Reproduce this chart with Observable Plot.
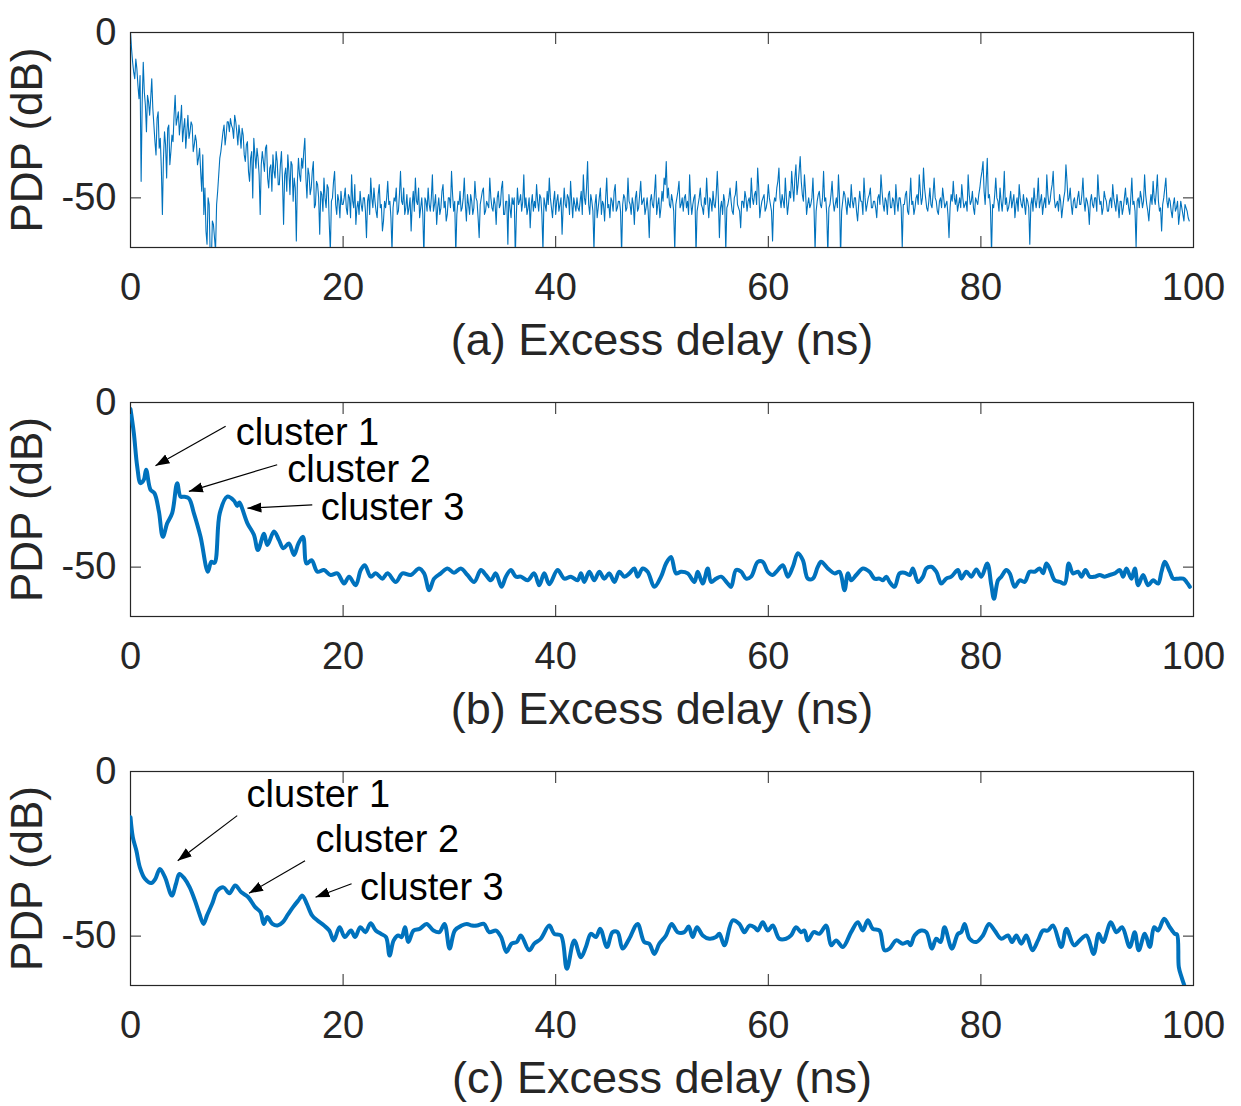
<!DOCTYPE html>
<html><head><meta charset="utf-8">
<script src="https://cdn.jsdelivr.net/npm/d3@7"></script>
<script src="https://cdn.jsdelivr.net/npm/@observablehq/plot@0.6"></script>
<style>
body{margin:0;background:#fff;}
#chart{width:1241px;height:1106px;overflow:hidden;}
#chart svg{display:block;}
</style></head><body><div id="chart"></div>
<script>
// ---------- axes / labels ----------
const xTicks = [0, 20, 40, 60, 80, 100];
const yTicks = [-50, 0];
const xLabels = ["(a) Excess delay (ns)", "(b) Excess delay (ns)", "(c) Excess delay (ns)"];
const yLabel = "PDP (dB)";
const clusterNames = ["cluster 1", "cluster 2", "cluster 3"];

// ---------- panel (a): raw PDP, one sample every 0.1 ns ----------
const sampleStepA = 0.1;
const pdpA = [
0,-5,-9,-12,-14,-8,-11,-16,-20,-13,-45,-21,-9,-18,-22,-30,-19,-21,-25,-20,
-14,-23,-28,-33,-37,-26,-24,-35,-32,-41,-55,-38,-30,-34,-44,-29,-28,-40,-36,-31,
-33,-25,-19,-28,-26,-24,-31,-27,-22,-33,-29,-26,-35,-30,-25,-32,-30,-27,-28,-36,
-34,-31,-33,-40,-38,-35,-42,-48,-37,-55,-47,-60,-64,-50,-52,-68,-70,-57,-58,-62,
-66,-52,-48,-43,-38,-36,-33,-30,-28,-34,-31,-27,-27,-30,-26,-28,-29,-32,-25,-27,
-30,-34,-28,-31,-35,-29,-31,-37,-39,-34,-33,-42,-45,-38,-36,-50,-32,-37,-41,-35,
-38,-43,-55,-40,-36,-39,-42,-35,-34,-44,-47,-41,-40,-48,-37,-42,-44,-36,-39,-46,
-46,-40,-36,-45,-58,-43,-41,-48,-37,-42,-49,-39,-40,-51,-44,-47,-63,-45,-38,-43,
-45,-38,-41,-36,-32,-44,-50,-41,-43,-49,-47,-42,-39,-53,-52,-45,-46,-50,-61,-48,
-49,-54,-44,-50,-53,-46,-47,-58,-66,-51,-50,-45,-42,-52,-55,-49,-51,-56,-48,-52,
-52,-50,-47,-53,-55,-49,-50,-56,-43,-51,-53,-46,-58,-53,-51,-55,-48,-52,-54,-50,
-50,-54,-62,-51,-49,-55,-44,-50,-53,-47,-51,-54,-56,-49,-46,-53,-52,-60,-57,-51,
-53,-50,-45,-52,-51,-56,-66,-53,-50,-51,-47,-55,-54,-49,-42,-51,-52,-47,-55,-53,
-49,-55,-53,-50,-60,-52,-48,-54,-44,-51,-52,-47,-56,-53,-50,-55,-68,-50,-51,-54,
-47,-52,-54,-50,-43,-54,-52,-49,-58,-53,-50,-55,-53,-48,-46,-53,-51,-57,-55,-50,
-50,-53,-42,-49,-54,-51,-67,-55,-51,-52,-48,-54,-53,-50,-44,-52,-57,-49,-52,-55,
-49,-51,-55,-53,-45,-50,-51,-56,-62,-52,-50,-48,-47,-55,-54,-51,-52,-53,-44,-50,
-53,-54,-50,-52,-58,-50,-48,-53,-52,-47,-45,-55,-55,-51,-51,-64,-49,-53,-56,-50,
-52,-50,-68,-55,-47,-52,-51,-49,-54,-51,-43,-53,-50,-55,-53,-50,-59,-52,-49,-54,
-51,-53,-46,-51,-54,-49,-50,-55,-66,-50,-52,-54,-48,-52,-44,-50,-53,-56,-51,-48,
-55,-51,-49,-54,-52,-50,-61,-53,-47,-52,-53,-49,-50,-55,-45,-51,-56,-50,-52,-54,
-50,-53,-54,-51,-48,-55,-43,-50,-52,-47,-39,-52,-55,-49,-51,-54,-66,-52,-49,-56,
-53,-50,-47,-55,-51,-52,-57,-50,-44,-53,-52,-56,-50,-51,-54,-48,-46,-54,-53,-51,
-51,-54,-67,-52,-49,-50,-54,-53,-44,-51,-52,-55,-50,-52,-58,-50,-48,-54,-53,-49,
-45,-52,-51,-50,-55,-53,-50,-54,-62,-51,-49,-52,-53,-48,-43,-55,-52,-50,-56,-53,
-48,-51,-44,-46,-39,-50,-47,-52,-53,-49,-51,-54,-66,-52,-50,-48,-45,-53,-52,-50,
-54,-50,-49,-53,-51,-55,-43,-51,-55,-52,-50,-49,-67,-54,-52,-50,-47,-52,-53,-55,
-50,-52,-44,-51,-56,-50,-51,-54,-48,-52,-53,-49,-42,-50,-62,-53,-51,-55,-49,-51,
-66,-53,-52,-50,-47,-51,-54,-55,-50,-49,-45,-52,-53,-54,-59,-51,-51,-53,-48,-50,
-54,-51,-50,-53,-44,-50,-52,-49,-48,-52,-41,-47,-56,-53,-51,-50,-49,-54,-53,-51,
-46,-50,-52,-54,-63,-52,-50,-51,-47,-45,-41,-50,-53,-49,-51,-53,-44,-50,-55,-52,
-48,-50,-42,-47,-51,-44,-40,-49,-46,-42,-37.5,-45,-49,-51,-43,-48,-55,-52,-50,-53,
-52,-50,-44,-53,-66,-54,-51,-49,-48,-52,-53,-50,-42,-51,-50,-55,-67,-53,-52,-49,
-45,-51,-54,-52,-50,-53,-43,-50,-68,-54,-51,-48,-49,-52,-55,-50,-52,-53,-46,-51,
-53,-50,-50,-54,-57,-52,-48,-51,-51,-55,-44,-50,-54,-52,-50,-49,-47,-53,-53,-51,
-51,-53,-56,-50,-49,-52,-43,-48,-52,-54,-50,-51,-55,-49,-48,-53,-53,-50,-51,-55,
-46,-51,-54,-50,-50,-53,-65,-52,-52,-49,-48,-54,-55,-50,-44,-52,-51,-55,-53,-50,
-49,-52,-43,-48,-52,-50,-41,-47,-50,-53,-54,-51,-47,-52,-53,-49,-44,-50,-51,-54,
-55,-51,-50,-53,-47,-50,-53,-52,-51,-55,-62,-53,-49,-51,-45,-50,-52,-49,-54,-52,
-50,-53,-46,-50,-53,-52,-51,-54,-43,-49,-52,-51,-48,-53,-55,-50,-51,-52,-49,-47,
-44,-42,-39,-48,-52,-45,-38,-50,-49,-53,-67,-52,-53,-49,-44,-50,-51,-54,-47,-51,
-54,-50,-42,-52,-50,-54,-53,-51,-48,-53,-51,-49,-56,-52,-50,-54,-46,-50,-52,-53,
-49,-52,-55,-50,-51,-53,-64,-52,-50,-54,-47,-51,-53,-50,-44,-53,-51,-49,-55,-52,
-50,-53,-43,-49,-52,-51,-48,-46,-42,-50,-53,-52,-51,-54,-49,-51,-56,-53,-50,-48,
-40,-45,-51,-50,-47,-52,-55,-51,-50,-53,-53,-50,-48,-52,-52,-49,-44,-51,-54,-50,
-51,-53,-58,-51,-49,-52,-53,-50,-50,-54,-43,-49,-52,-51,-55,-53,-48,-50,-51,-54,
-54,-51,-50,-53,-46,-50,-52,-54,-49,-52,-56,-51,-51,-55,-53,-50,-47,-52,-50,-53,
-55,-50,-44,-52,-51,-54,-65,-51,-50,-53,-48,-50,-53,-51,-43,-49,-52,-54,-57,-52,
-49,-52,-45,-50,-52,-48,-43,-51,-54,-53,-60,-52,-50,-47,-44,-51,-53,-50,-51,-54,
-56,-52,-50,-54,-53,-51,-58,-55,-51,-53,-55,-57,-52,-53,-54,-56,-57
];

// ---------- panel (b): clustered PDP ----------
const delayB = [
0,0.31,0.63,0.94,1.25,1.47,1.88,2.26,2.67,3.04,3.45,3.92,4.39,4.71,5.02,5.49,5.96,6.59,7.28,7.6,
7.9,8.4,9.1,9.73,10.04,10.23,11.0,11.61,11.99,12.56,12.87,13.5,13.97,14.38,14.9,15.38,15.8,16.23,16.57,17.04,
17.58,18.2,18.83,19.46,20.09,20.56,21.18,21.66,22.04,22.6,23.07,23.7,24.17,24.96,25.58,26.37,27.15,27.62,28.1,28.56,
29.19,29.82,30.44,31.07,31.7,32.33,32.96,33.43,33.9,34.37,34.9,35.31,35.78,36.26,36.73,37.35,37.98,38.45,38.92,39.4,
40.18,40.81,41.43,42.06,42.38,42.69,43.16,43.63,44.1,44.57,45.04,45.52,45.99,46.46,46.93,47.4,47.71,48.18,48.65,49.28,
49.91,50.38,50.85,51.32,51.79,52.42,53.05,53.36,53.83,54.3,54.62,55.09,55.56,56.19,56.5,56.97,57.44,57.91,58.38,59.01,
59.48,59.95,60.42,60.89,61.37,61.84,62.31,62.78,63.25,63.72,64.19,64.66,64.97,65.6,66.23,66.7,67.17,67.49,67.8,68.27,
68.9,69.52,69.99,70.47,70.78,71.1,71.41,71.88,72.35,72.82,73.29,73.6,74.08,74.55,74.86,75.33,75.8,76.27,76.74,77.21,
77.84,78.16,78.63,79.1,79.57,80.04,80.6,80.98,81.23,81.61,81.92,82.39,82.71,83.18,83.65,84.12,84.59,85.06,85.53,85.85,
86.16,86.47,86.94,87.42,87.89,88.26,88.67,89.14,89.46,89.83,90.24,90.71,91.18,91.65,92.12,92.59,93.07,93.38,93.69,94.16,
94.48,94.79,95.26,95.73,96.2,96.67,96.99,97.3,97.77,98.09,98.56,99.03,99.34,99.66
];
const pdpB = [
-2,-9.2,-19.4,-24.5,-23.5,-20.4,-26.5,-27.6,-33.1,-40.8,-36.7,-33.6,-24.5,-28.6,-28.6,-29.1,-33.6,-40.8,-51.4,-48.4,
-48.7,-33.6,-28.6,-29.8,-31.4,-30.4,-36.7,-40.2,-44.8,-39.9,-43.3,-39.2,-41.8,-44.3,-42.8,-46.3,-42.8,-40.8,-48.9,-47.9,
-51.4,-50.9,-52.4,-51.9,-55.0,-52.9,-55.5,-50.9,-49.4,-52.9,-51.9,-53.5,-51.9,-54.5,-51.9,-52.4,-50.4,-51.9,-57.0,-53.5,
-51.9,-50.4,-51.7,-50.4,-52.4,-54.5,-50.9,-52.4,-54.0,-51.9,-56.0,-52.9,-50.9,-52.9,-52.9,-54.0,-51.9,-55.5,-51.9,-55.2,
-50.9,-53.5,-52.9,-54.0,-51.9,-54.5,-51.4,-54.0,-51.4,-53.5,-51.9,-54.5,-51.4,-52.9,-51.9,-50.4,-52.9,-50.4,-51.4,-56.0,
-52.9,-48.9,-46.9,-51.9,-51.4,-51.9,-54.5,-51.4,-55.0,-50.4,-54.5,-53.5,-52.9,-55.0,-56.0,-50.9,-51.4,-53.5,-52.9,-48.4,
-48.4,-51.4,-52.4,-50.9,-49.4,-52.9,-49.9,-45.8,-47.9,-53.5,-53.5,-49.9,-48.4,-50.4,-51.9,-51.4,-57.0,-51.9,-54.0,-52.4,
-50.4,-51.4,-53.5,-53.5,-54.0,-52.9,-54.5,-56.0,-51.9,-51.7,-52.4,-50.4,-54.5,-52.9,-50.4,-49.9,-51.4,-55.0,-53.5,-52.9,
-50.9,-53.5,-51.4,-52.9,-50.7,-52.9,-48.9,-55.5,-59.6,-54.0,-52.9,-50.9,-51.9,-56.0,-54.0,-54.5,-51.4,-51.4,-50.4,-51.9,
-48.9,-50.4,-54.0,-54.5,-55.0,-48.9,-51.9,-51.4,-52.9,-50.9,-52.9,-52.9,-52.4,-52.9,-52.4,-51.9,-50.9,-52.9,-50.4,-53.5,
-50.4,-55.5,-52.4,-55.5,-54.0,-55.0,-51.4,-48.4,-51.4,-53.5,-53.5,-53.5,-54.5,-56.0
];

// ---------- panel (c): clustered PDP, second method ----------
const delayC = [
0,0.22,0.55,0.88,1.36,1.95,2.34,2.76,3.24,3.89,4.28,4.6,5.09,5.57,6.06,6.48,6.87,7.2,7.68,8.17,
8.75,9.3,9.85,10.43,11.08,11.73,12.22,12.54,12.86,13.35,13.83,14.32,14.8,15.29,15.78,16.17,16.59,17.08,17.56,18.21,
18.7,19.12,19.67,20.16,20.74,21.13,21.62,22.1,22.59,23.07,23.56,24.04,24.37,24.76,25.18,25.5,25.82,26.14,26.63,27.21,
27.86,28.5,29.05,29.54,30.02,30.51,31.15,31.64,32.12,32.61,33.25,33.74,34.39,34.87,35.36,35.85,36.34,36.72,37.5,37.98,
38.6,39.39,39.86,40.49,41.05,41.74,42.37,42.84,43.31,43.78,44.19,44.82,45.35,45.82,46.29,46.92,47.7,48.33,48.8,49.28,
49.75,50.37,50.91,51.47,52.1,52.51,52.88,53.29,53.83,54.45,55.08,55.4,55.87,56.65,57.28,57.75,58.22,58.69,59.0,59.48,
59.95,60.42,61.04,61.67,62.14,62.61,63.08,63.4,63.71,64.28,64.81,65.44,65.91,66.38,67.01,67.79,68.42,68.89,69.36,69.83,
70.46,70.93,71.4,72.03,72.66,73.13,73.38,73.76,74.39,74.86,75.39,75.8,76.21,76.58,77.27,77.84,78.15,78.47,78.94,79.57,
80.19,80.76,81.29,81.92,82.55,82.92,83.33,83.8,84.27,84.84,85.37,85.84,86.31,86.78,87.57,88.04,88.76,89.3,89.92,90.61,
91.08,91.49,92.22,92.75,93.28,94.0,94.47,94.85,95.42,95.89,96.3,96.67,97.24,97.77,98.24,98.45,98.62,98.87,99.25
];
const pdpC = [
-13.9,-20,-24,-29.1,-32.6,-33.9,-32.6,-29.6,-32.1,-37.7,-34.1,-31.1,-32.6,-35.2,-39.2,-43.2,-46.3,-43.7,-40.2,-36.2,
-35.2,-37,-34.6,-36.7,-38.2,-41.2,-42.7,-46.3,-44.2,-46.3,-46.8,-45.8,-43.5,-41.2,-39.2,-37.7,-40.2,-43.7,-45.2,-46.8,
-48.3,-51.3,-47.3,-50.3,-48.3,-50.3,-47.3,-48.8,-46.1,-48.3,-49.3,-50.3,-55.9,-51.3,-49.8,-50.3,-47.3,-51.8,-48.3,-47.8,
-46.3,-48.3,-48.8,-46.3,-53.8,-48.3,-46.8,-46.3,-46.8,-46.8,-46.3,-48.8,-48.3,-50.3,-54.8,-52.3,-51.8,-49.8,-54.3,-52.3,
-50.8,-46.8,-49.3,-49.8,-59.9,-51.3,-56.4,-53.3,-49.3,-50.3,-47.8,-53.3,-48.8,-48.8,-53.8,-50.8,-46.3,-51.8,-52.3,-55.4,
-52.3,-49.8,-46.3,-48.8,-48.8,-47.1,-50.3,-47.3,-49.8,-50.8,-50.3,-49.3,-52.8,-45.2,-46.3,-48.8,-46.8,-47.3,-48.3,-45.8,
-48.3,-46.8,-50.8,-50.8,-49.8,-47.3,-48.8,-48.3,-51.3,-48.8,-49.3,-46.8,-52.8,-51.3,-53.3,-48.8,-45.8,-48.3,-45.2,-47.8,
-48.3,-54.3,-53.8,-51.3,-52.3,-51.8,-52.8,-49.8,-48.3,-48.8,-53.8,-50.8,-51.8,-47.3,-53.8,-49.3,-48.8,-46.3,-50.8,-51.8,
-49.8,-46.3,-48.3,-50.8,-49.8,-51.8,-49.8,-52.3,-49.8,-54.3,-51.3,-48.3,-48.3,-46.8,-53.3,-47.8,-52.8,-51.3,-49.8,-55.4,
-49.3,-51.8,-45.8,-48.8,-47.3,-53.3,-48.8,-54.3,-49.3,-53.3,-47.3,-48.3,-44.7,-47.3,-49.3,-49.5,-59.4,-62.4,-66
];

// ---------- annotations ----------
const clusterLabelDelayB = [9.89, 14.75, 17.9];
const clusterLabelPdpB = [-9.3, -20.4, -32.1];
const arrowFromDelayB = [8.95, 13.8, 17.1];
const arrowFromPdpB = [-7.2, -18.9, -31.1];
const arrowToDelayB = [2.35, 5.49, 11.0];
const arrowToPdpB = [-19.2, -27.0, -32.1];

const clusterLabelDelayC = [10.92, 17.4, 21.6];
const clusterLabelPdpC = [-7.1, -20.7, -35.4];
const arrowFromDelayC = [10.04, 16.42, 20.8];
const arrowFromPdpC = [-13.4, -27.1, -34.1];
const arrowToDelayC = [4.44, 11.15, 17.4];
const arrowToPdpC = [-27.1, -37.0, -38.2];

// ---------- build tables ----------
const tableA = pdpA.map((v, i) => ({t: i * sampleStepA, v}));
const tableB = delayB.map((t, i) => ({t, v: pdpB[i]}));
const tableC = delayC.map((t, i) => ({t, v: pdpC[i]}));

const FONT = "'Liberation Sans', Arial, Helvetica, sans-serif";
const INK = "#262626";
const BLUE = "#0072BD";

function filledHead(color) {
  const ns = "http://www.w3.org/2000/svg";
  const m = document.createElementNS(ns, "marker");
  m.setAttribute("viewBox", "0 -5 10 10");
  m.setAttribute("refX", "10");
  m.setAttribute("refY", "0");
  m.setAttribute("markerUnits", "userSpaceOnUse");
  m.setAttribute("markerWidth", "14");
  m.setAttribute("markerHeight", "14");
  m.setAttribute("orient", "auto");
  const p = document.createElementNS(ns, "path");
  p.setAttribute("d", "M0,-3.6L10,0L0,3.6Z");
  p.setAttribute("fill", "black");
  p.setAttribute("stroke", "none");
  m.appendChild(p);
  return m;
}

function annotations(lx, ly, fx, fy, tx, ty) {
  return [
    Plot.link(clusterNames, {x1: fx, y1: fy, x2: tx, y2: ty, stroke: "black", strokeWidth: 1.2, markerEnd: filledHead}),
    Plot.text(clusterNames, {x: lx, y: ly, text: d => d, textAnchor: "start", lineAnchor: "middle", fontSize: 38, fill: "black"})
  ];
}

const fmt = d => String(d);

function panel({data, lineWidth, curve, xLabel, height, marginTop, marginBottom, extra = []}) {
  return Plot.plot({
    width: 1241,
    height,
    marginLeft: 130,
    marginRight: 48,
    marginTop,
    marginBottom,
    style: {fontFamily: FONT, color: INK, background: "white", overflow: "visible"},
    x: {domain: [0, 100]},
    y: {domain: [-65, 0]},
    marks: [
      Plot.frame({stroke: INK, strokeWidth: 1.2}),
      Plot.line(data, {x: "t", y: "v", stroke: BLUE, strokeWidth: lineWidth, curve, clip: true, strokeLinejoin: "round"}),
      Plot.axisX({ticks: xTicks, tickSize: -11, fill: "none", label: null, stroke: INK}),
      Plot.axisX({anchor: "top", ticks: xTicks, tickSize: -11, fill: "none", label: null, stroke: INK}),
      Plot.axisY({ticks: yTicks, tickSize: -11, fill: "none", label: null, stroke: INK}),
      Plot.axisY({anchor: "right", ticks: yTicks, tickSize: -11, fill: "none", label: null, stroke: INK}),
      Plot.axisX({ticks: xTicks, tickSize: 0, tickPadding: 26, fontSize: 38, label: null, fill: INK, tickFormat: fmt}),
      Plot.axisY({ticks: yTicks, tickSize: 0, tickPadding: 14, fontSize: 38, label: null, fill: INK, tickFormat: fmt}),
      Plot.text([xLabel], {text: d => d, frameAnchor: "bottom", lineAnchor: "middle", textAnchor: "middle", dy: 93, fontSize: 45, fill: INK}),
      Plot.text([yLabel], {text: d => d, frameAnchor: "left", textAnchor: "middle", lineAnchor: "middle", dx: -103, rotate: -90, fontSize: 44, fill: INK}),
      ...extra
    ]
  });
}

const chart = document.getElementById("chart");
chart.appendChild(panel({data: tableA, lineWidth: 1.1, curve: "linear", xLabel: xLabels[0], height: 369, marginTop: 32, marginBottom: 122}));
chart.appendChild(panel({data: tableB, lineWidth: 4, curve: "catmull-rom", xLabel: xLabels[1], height: 369, marginTop: 33, marginBottom: 122,
  extra: annotations(clusterLabelDelayB, clusterLabelPdpB, arrowFromDelayB, arrowFromPdpB, arrowToDelayB, arrowToPdpB)}));
chart.appendChild(panel({data: tableC, lineWidth: 4, curve: "catmull-rom", xLabel: xLabels[2], height: 368, marginTop: 33, marginBottom: 121,
  extra: annotations(clusterLabelDelayC, clusterLabelPdpC, arrowFromDelayC, arrowFromPdpC, arrowToDelayC, arrowToPdpC)}));
</script>
</body></html>
